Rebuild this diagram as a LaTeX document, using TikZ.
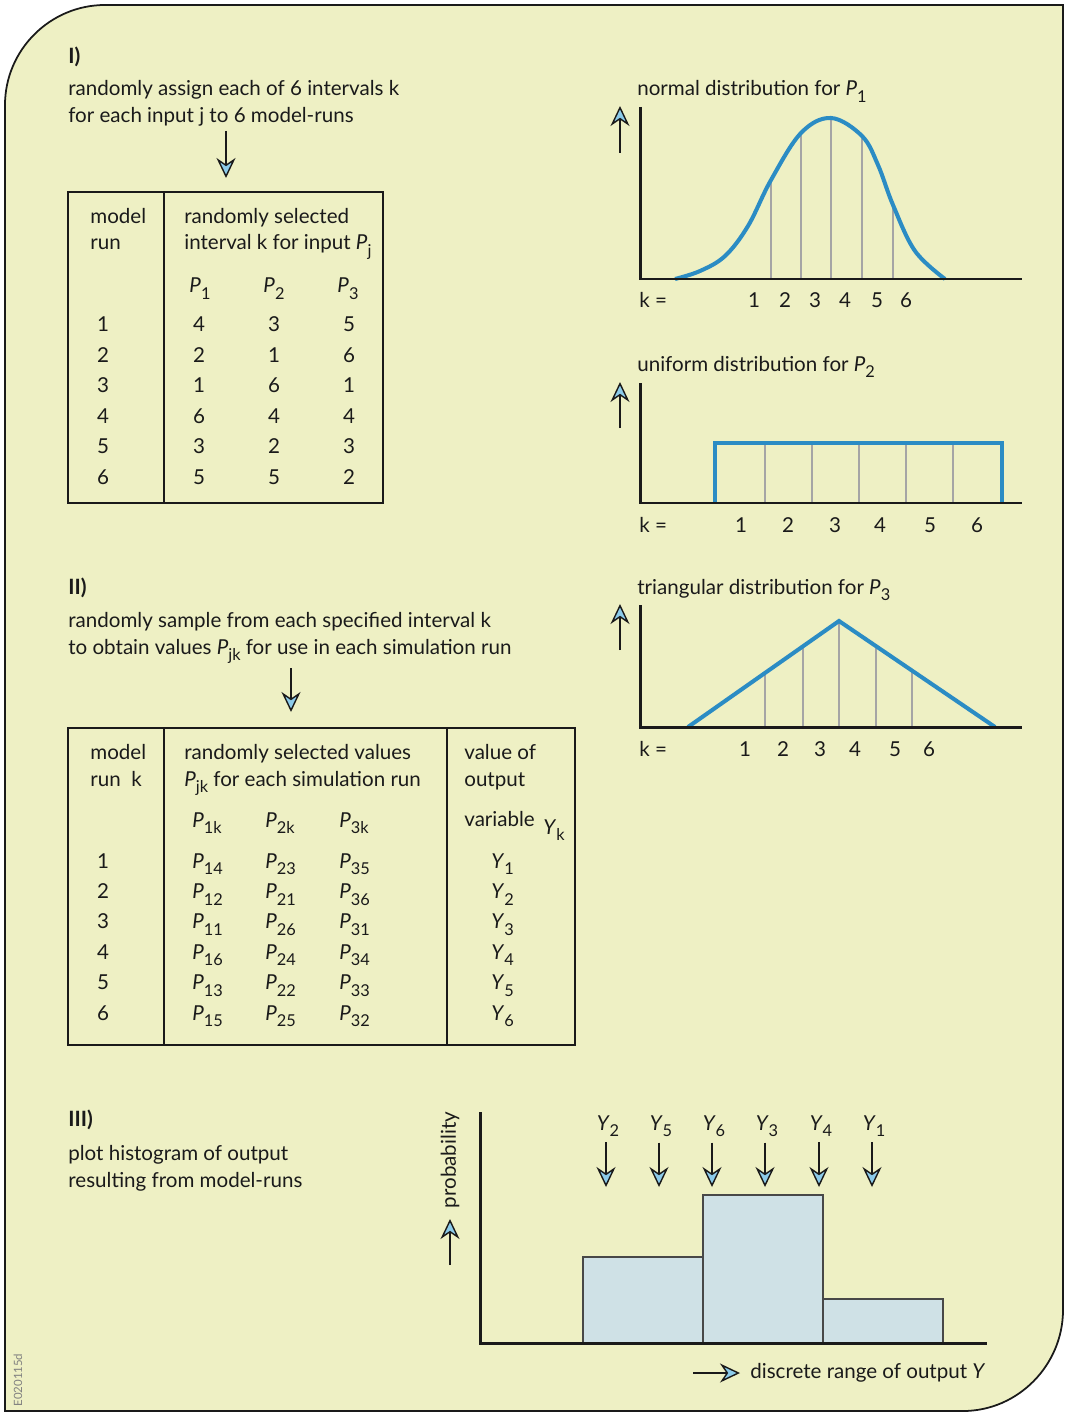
\documentclass[tikz,border=0pt]{standalone}
\usepackage{fontspec}
\setmainfont{Lato}
\usetikzlibrary{arrows.meta,positioning}
\definecolor{paper}{HTML}{EEF0C4}
\definecolor{curvec}{HTML}{2B8CC4}
\definecolor{tipc}{HTML}{8CCBEA}
\definecolor{barc}{HTML}{CFE1E6}
\definecolor{gridc}{HTML}{A5A5A5}
\definecolor{inkc}{HTML}{1A1A1A}
\newcommand{\vsub}[2]{\textit{#1}\raisebox{-0.65ex}{\fontsize{9.3}{10}\selectfont #2}}
\tikzset{
  ar/.style={-{Stealth[length=4mm,width=3.8mm,inset=1.3mm,fill=tipc]},line width=0.8pt,inkc},
  txt/.style={anchor=base west,inner sep=0pt,font=\fontsize{11.7}{14}\selectfont,text=inkc},
  cell/.style={anchor=base,inner sep=0pt,font=\fontsize{11.7}{14}\selectfont,text=inkc},
  hd/.style={txt,font=\fontsize{12}{14}\selectfont\bfseries},
  axis/.style={line width=1.7pt,inkc},
  frame/.style={line width=1pt,inkc},
  dist/.style={line width=2.3pt,curvec},
  slice/.style={line width=1.1pt,gridc}
}

\begin{document}
\begin{tikzpicture}[x=0.02cm,y=-0.02cm]
\useasboundingbox (0,0) rectangle (1065,1412);
\fill[paper] (5,1412) -- (5,105) .. controls (5,50) and (50,5) .. (105,5) -- (1063,5) -- (1063,1310) .. controls (1063,1365) and (1018,1411) .. (963,1411) -- (5,1411) -- cycle;
\draw[line width=1pt,inkc] (5,1412) -- (5,105) .. controls (5,50) and (50,5) .. (105,5) -- (1063,5) -- (1063,1310) .. controls (1063,1365) and (1018,1411) .. (963,1411) -- (5,1411);
\node[rotate=90,inner sep=0pt,font=\fontsize{6.5}{7}\selectfont,text=gray] (code) at (18,1380) {E020115d};

% part I
\node[hd] (h1) at (68,64) {I)};
\node[txt] (t1a) at (68,96) {randomly assign each of 6 intervals k};
\node[txt] (t1b) at (68,123) {for each input j to 6 model-runs};
\coordinate (a1s) at (226,131);
\coordinate (a1e) at (226,178);
\draw[ar] (a1s) -- (a1e);
\draw[frame] (68,192) rectangle (383,503) (164,192) -- (164,503);
\node[txt] (m1a) at (90,224) {model};
\node[txt] (m1b) at (90,250) {run};
\node[txt] (s1a) at (184,224) {randomly selected};
\node[txt] (s1b) at (184,250) {interval k for input \vsub{P}{j}};
\foreach \j/\x in {1/200,2/274,3/348}
  \node[cell] (p\j) at (\x,293) {\vsub{P}{\j}};
\foreach \r/\a/\b/\c [count=\i] in {1/4/3/5,2/2/1/6,3/1/6/1,4/6/4/4,5/3/2/3,6/5/5/2}{
  \pgfmathsetmacro\yy{332+30.4*(\i-1)}
  \node[cell] (r\i) at (103,\yy) {\r};
  \node[cell] (ka\i) at (199,\yy) {\a};
  \node[cell] (kb\i) at (274,\yy) {\b};
  \node[cell] (kc\i) at (349,\yy) {\c};
}

% part II
\node[hd] (h2) at (68,594) {II)};
\node[txt] (t2a) at (68,627) {randomly sample from each specified interval k};
\node[txt] (t2b) at (68,654) {to obtain values \vsub{P}{jk} for use in each simulation run};
\coordinate (a2s) at (291,668);
\coordinate (a2e) at (291,712);
\draw[ar] (a2s) -- (a2e);
\draw[frame] (68,728) rectangle (575,1045) (164,728) -- (164,1045) (447,728) -- (447,1045);
\node[txt] (m2a) at (90,759) {model};
\node[txt] (m2b) at (90,786) {run\ \ k};
\node[txt] (s2a) at (184,759) {randomly selected values};
\node[txt] (s2b) at (184,786) {\vsub{P}{jk} for each simulation run};
\node[txt] (v2a) at (464,759) {value of};
\node[txt] (v2b) at (464,786) {output};
\node[txt] (v2c) at (464,826) {variable};
\node[txt] (yk) at (543,834) {\vsub{Y}{k}};
\foreach \j/\x in {1/192,2/265,3/339}
  \node[txt] (q\j) at (\x,827) {\vsub{P}{\j k}};
\foreach \a/\b/\c [count=\i] in {14/23/35,12/21/36,11/26/31,16/24/34,13/22/33,15/25/32}{
  \pgfmathsetmacro\yy{868+30.4*(\i-1)}
  \node[cell] (n\i) at (103,\yy) {\i};
  \node[txt] (sa\i) at (192,\yy) {\vsub{P}{\a}};
  \node[txt] (sb\i) at (265,\yy) {\vsub{P}{\b}};
  \node[txt] (sc\i) at (339,\yy) {\vsub{P}{\c}};
  \node[txt] (y\i) at (491,\yy) {\vsub{Y}{\i}};
}

% part III
\node[hd] (h3) at (68,1126) {III)};
\node[txt] (t3a) at (68,1160) {plot histogram of output};
\node[txt] (t3b) at (68,1187) {resulting from model-runs};
\draw[axis] (480,1112) -- (480,1343) -- (987,1343);
\draw[line width=0.8pt,inkc!80,fill=barc] (583,1343) rectangle (703,1257);
\draw[line width=0.8pt,inkc!80,fill=barc] (703,1343) rectangle (823,1195);
\draw[line width=0.8pt,inkc!80,fill=barc] (823,1343) rectangle (943,1299);
\draw[axis] (480,1343) -- (987,1343);
\node[rotate=90,inner sep=0pt,font=\fontsize{11.7}{14}\selectfont,text=inkc] (prob) at (450,1160) {probability};
\coordinate (pa) at (450,1265);
\coordinate (pb) at (450,1219);
\draw[ar] (pa) -- (pb);
\foreach \k/\x [count=\i] in {2/606,5/659,6/712,3/765,4/819,1/872}{
  \node[cell] (hy\i) at (\x+2,1130) {\vsub{Y}{\k}};
  \coordinate (ht\i) at (\x,1187);
  \draw[ar,shorten <=3pt] (hy\i.south -| ht\i) -- (ht\i);
}
\coordinate (da) at (693,1373);
\coordinate (db) at (740,1373);
\draw[ar] (da) -- (db);
\node[txt] (drange) at (750,1378) {discrete range of output \textit{Y}};

% normal distribution
\node[txt] (g1) at (637,96) {normal distribution for \vsub{P}{1}};
\coordinate (u1a) at (620,153);
\coordinate (u1b) at (620,106);
\draw[ar] (u1a) -- (u1b);
\foreach \x/\y in {771/178,801/132,831/117,862/137,893/205}
  \draw[slice] (\x,279) -- (\x,\y);
\draw[dist] plot[smooth,tension=0.6] coordinates {(675,279) (700,271) (725,256) (748,226) (771,180) (801,133) (831,118) (862,136) (878,165) (893,205) (915,251) (945,279)};
\draw[axis] (640,107) -- (640,279) -- (1022,279);
\node[txt] (k1) at (639,308) {k =};
\foreach \n/\x in {1/754,2/785,3/815,4/845,5/877,6/906}
  \node[cell] (ka\n) at (\x,308) {\n};

% uniform distribution
\node[txt] (g2) at (637,371) {uniform distribution for \vsub{P}{2}};
\coordinate (u2a) at (620,428);
\coordinate (u2b) at (620,382);
\draw[ar] (u2a) -- (u2b);
\foreach \x in {765,812,859,906,953}
  \draw[slice] (\x,503) -- (\x,443);
\draw[dist] (715,503) -- (715,443) -- (1002,443) -- (1002,503);
\draw[axis] (640,383) -- (640,503) -- (1022,503);
\node[txt] (k2) at (639,532) {k =};
\foreach \n/\x in {1/741,2/788,3/835,4/880,5/930,6/977}
  \node[cell] (kb\n) at (\x,532) {\n};

% triangular distribution
\node[txt] (g3) at (637,594) {triangular distribution for \vsub{P}{3}};
\coordinate (u3a) at (620,650);
\coordinate (u3b) at (620,604);
\draw[ar] (u3a) -- (u3b);
\foreach \x/\y in {765/673,803/646,839/621,876/646,912/671}
  \draw[slice] (\x,727) -- (\x,\y);
\draw[dist] (688,727) -- (839,621) -- (995,727);
\draw[axis] (640,605) -- (640,727) -- (1022,727);
\node[txt] (k3) at (639,756) {k =};
\foreach \n/\x in {1/745,2/783,3/820,4/855,5/895,6/929}
  \node[cell] (kc\n) at (\x,756) {\n};
\end{tikzpicture}
\end{document}
